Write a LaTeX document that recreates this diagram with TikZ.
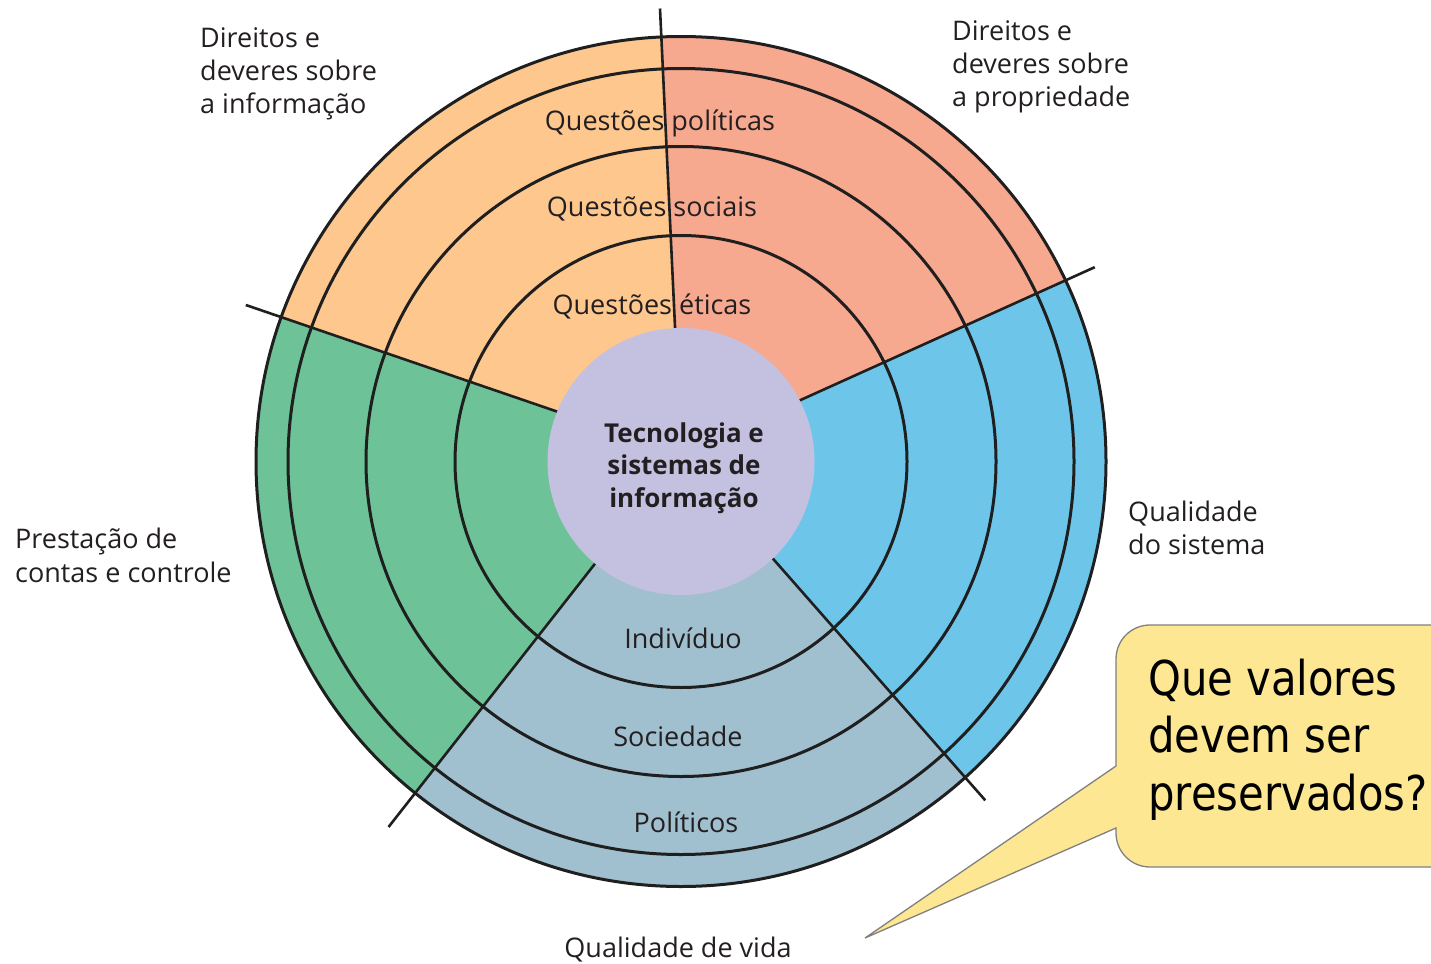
\documentclass[tikz,border=0pt]{standalone}
\usepackage{fontspec}
\setmainfont{Open Sans}
\newfontfamily\callfont[FakeStretch=0.87]{DejaVu Sans}
\usetikzlibrary{calc}
\definecolor{cOrange}{HTML}{FDC78D}
\definecolor{cSalmon}{HTML}{F7A98F}
\definecolor{cBlue}{HTML}{6DC6EA}
\definecolor{cGrey}{HTML}{A0BFCF}
\definecolor{cGreen}{HTML}{6DC397}
\definecolor{cLav}{HTML}{C4C1E0}
\definecolor{cCall}{HTML}{FDE792}
\definecolor{cTxt}{HTML}{231F20}
\tikzset{
  ringline/.style={draw=black!88, line width=3pt},
  divline/.style={draw=black!88, line width=2.6pt},
  lbl/.style={font=\fontsize{27}{33.3}\selectfont, text=cTxt, align=left, inner sep=0pt},
  ringlbl/.style={font=\fontsize{27}{33}\selectfont, text=cTxt, inner sep=0pt},
  corelbl/.style={font=\fontsize{26}{32.5}\selectfont\bfseries, text=cTxt, align=center, inner sep=0pt},
  callbox/.style={fill=cCall, draw=black!50, line width=1.3pt, line join=miter},
  calltxt/.style={font=\callfont\fontsize{48}{57.5}\selectfont, text=black, align=left, inner sep=0pt},
}
\begin{document}
\begin{tikzpicture}[x=1pt,y=-1pt]
\useasboundingbox (0,0) rectangle (1431,963);
\coordinate (C) at (681,461.5);
\coordinate (L) at (681,454);
% sector fills
\begin{scope}
  \clip (C) circle[radius=425];
  \fill[cSalmon] (L) -- ($(L)+(-92.7:900)$) -- ($(L)+(-58.5:1300)$) -- ($(L)+(-24.3:900)$) -- cycle;
  \fill[cBlue]   (L) -- ($(L)+(-24.3:900)$) -- ($(L)+(12.2:1300)$) -- ($(L)+(48.7:900)$) -- cycle;
  \fill[cGrey]   (L) -- ($(L)+(48.7:900)$) -- ($(L)+(88.4:1300)$) -- ($(L)+(128.1:900)$) -- cycle;
  \fill[cGreen]  (L) -- ($(L)+(128.1:900)$) -- ($(L)+(163.5:1300)$) -- ($(L)+(198.9:900)$) -- cycle;
  \fill[cOrange] (L) -- ($(L)+(198.9:900)$) -- ($(L)+(233.1:1300)$) -- ($(L)+(267.3:900)$) -- cycle;
\end{scope}
% ring circles
\draw[ringline] (C) circle[radius=226];
\draw[ringline] (C) circle[radius=315];
\draw[ringline] (C) circle[radius=393];
\draw[ringline] (C) circle[radius=425];
% dividing lines
\draw[divline] ($(L)+(-92.7:120)$) -- ($(L)+(-92.7:446)$);
\draw[divline] ($(L)+(198.9:120)$) -- ($(L)+(198.9:460)$);
\draw[divline] ($(L)+(-24.3:120)$) -- ($(L)+(-24.3:454)$);
\draw[divline] ($(L)+(48.7:120)$) -- ($(L)+(48.7:461)$);
\draw[divline] ($(L)+(128.1:120)$) -- ($(L)+(128.1:474)$);
% core
\fill[cLav] (C) circle[radius=133.5];
\node[corelbl] (core) at (684,468) {Tecnologia e\\sistemas de\\informação};
% ring labels
\node[ringlbl, anchor=base] (qpol) at (660,130) {Questões políticas};
\node[ringlbl, anchor=base] (qsoc) at (652,216) {Questões sociais};
\node[ringlbl, anchor=base] (qeti) at (652,314) {Questões éticas};
\node[ringlbl, anchor=base] (indiv) at (683,648) {Indivíduo};
\node[ringlbl, anchor=base] (soc) at (678,746) {Sociedade};
\node[ringlbl, anchor=base] (pol) at (686,832) {Políticos};
% outer labels
\node[lbl, anchor=west] (dinfo) at (200,74) {Direitos e\\deveres sobre\\a informação};
\node[lbl, anchor=west] (dprop) at (952,67) {Direitos e\\deveres sobre\\a propriedade};
\node[lbl, anchor=west] (qsis) at (1128,528) {Qualidade\\do sistema};
\node[lbl, anchor=west] (pcon) at (15,555.5) {Prestação de\\contas e controle};
\node[ringlbl, anchor=base] (qvida) at (678,957) {Qualidade de vida};
% callout
\begin{scope}
  \clip (0,0) rectangle (1431,963);
  \path[callbox] (1480,625) -- (1150,625) .. controls (1131.2,625) and (1116,640.2) .. (1116,659)
     -- (1116,766) -- (865,938) -- (1116,828) -- (1116,833)
     .. controls (1116,851.8) and (1131.2,867) .. (1150,867) -- (1480,867) -- cycle;
\end{scope}
\node[calltxt, anchor=north west] (callt) at (1148,658.5) {Que valores\\devem ser\\preservados?};
\end{tikzpicture}
\end{document}
